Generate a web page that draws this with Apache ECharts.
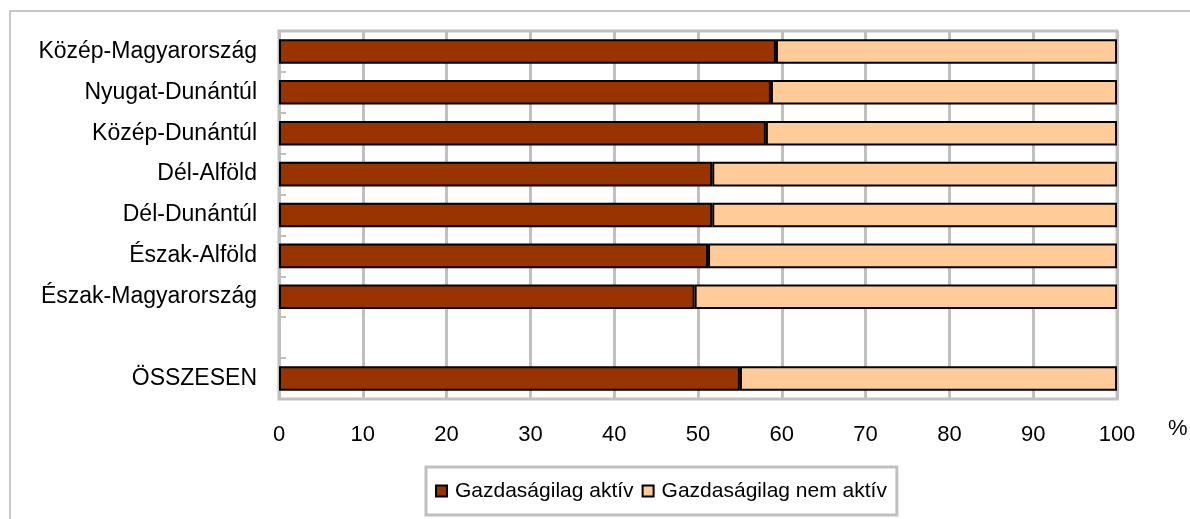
<!DOCTYPE html>
<html>
<head>
<meta charset="utf-8">
<script src="https://cdn.jsdelivr.net/npm/echarts@6/dist/echarts.min.js"></script>
<style>
html,body{margin:0;padding:0;background:#fff;}
#c{width:1190px;height:519px;}
</style>
</head>
<body>
<div id="c"></div>
<script>
var categories = ['Közép-Magyarország','Nyugat-Dunántúl','Közép-Dunántúl','Dél-Alföld','Dél-Dunántúl','Észak-Alföld','Észak-Magyarország','','ÖSSZESEN'];
var activeValues = [59.3, 58.7, 58.1, 51.7, 51.7, 51.2, 49.6, null, 55.0];
var inactiveValues = [40.7, 41.3, 41.9, 48.3, 48.3, 48.8, 50.4, null, 45.0];
var xTicks = [0, 10, 20, 30, 40, 50, 60, 70, 80, 90, 100];
var seriesNames = ['Gazdaságilag aktív', 'Gazdaságilag nem aktív'];

var FONT = 'Liberation Sans, Arial, sans-serif';
var chart = echarts.init(document.getElementById('c'), null, {renderer: 'canvas'});
chart.setOption({
  animation: false,
  backgroundColor: '#fff',
  textStyle: {fontFamily: FONT},
  grid: {left: 279, right: 73, top: 31, bottom: 120, show: true, borderColor: '#c0c0c0', borderWidth: 3, containLabel: false},
  xAxis: {
    type: 'value', min: xTicks[0], max: xTicks[xTicks.length - 1], interval: 10,
    axisLine: {show: false},
    axisTick: {show: true, inside: true, length: 4, lineStyle: {color: '#c0c0c0', width: 2}},
    splitLine: {show: true, lineStyle: {color: '#c0c0c0', width: 3}},
    axisLabel: {color: '#000', fontSize: 22, fontFamily: FONT, margin: 25}
  },
  yAxis: {
    type: 'category', data: categories, inverse: true,
    axisLine: {show: false},
    axisTick: {show: true, inside: true, length: 7, lineStyle: {color: '#c0c0c0', width: 2}},
    axisLabel: {color: '#000', fontSize: 23, fontFamily: FONT, margin: 22}
  },
  legend: {
    data: seriesNames,
    left: 426, top: 467,
    padding: [12, 10, 12, 9],
    itemGap: 8,
    itemWidth: 11, itemHeight: 11,
    icon: 'rect',
    borderColor: '#c0c0c0', borderWidth: 3,
    textStyle: {color: '#000', fontSize: 21, fontFamily: FONT, padding: [0, 0, 0, 3], lineHeight: 24}
  },
  graphic: [
    {type: 'rect', shape: {x: 10, y: 11, width: 1200, height: 600}, style: {fill: 'none', stroke: '#c8c8c8', lineWidth: 2}, silent: true},
    {type: 'text', x: 1168, y: 429, style: {text: '%', fill: '#000', font: '22px ' + FONT, textVerticalAlign: 'middle', verticalAlign: 'middle'}, silent: true}
  ],
  series: [
    {name: seriesNames[0], type: 'bar', stack: 'total', data: activeValues, barWidth: '60%',
     itemStyle: {color: '#993300', borderColor: '#000', borderWidth: 2}},
    {name: seriesNames[1], type: 'bar', stack: 'total', data: inactiveValues, barWidth: '60%',
     itemStyle: {color: '#FFCC99', borderColor: '#000', borderWidth: 2}}
  ]
});
</script>
</body>
</html>
